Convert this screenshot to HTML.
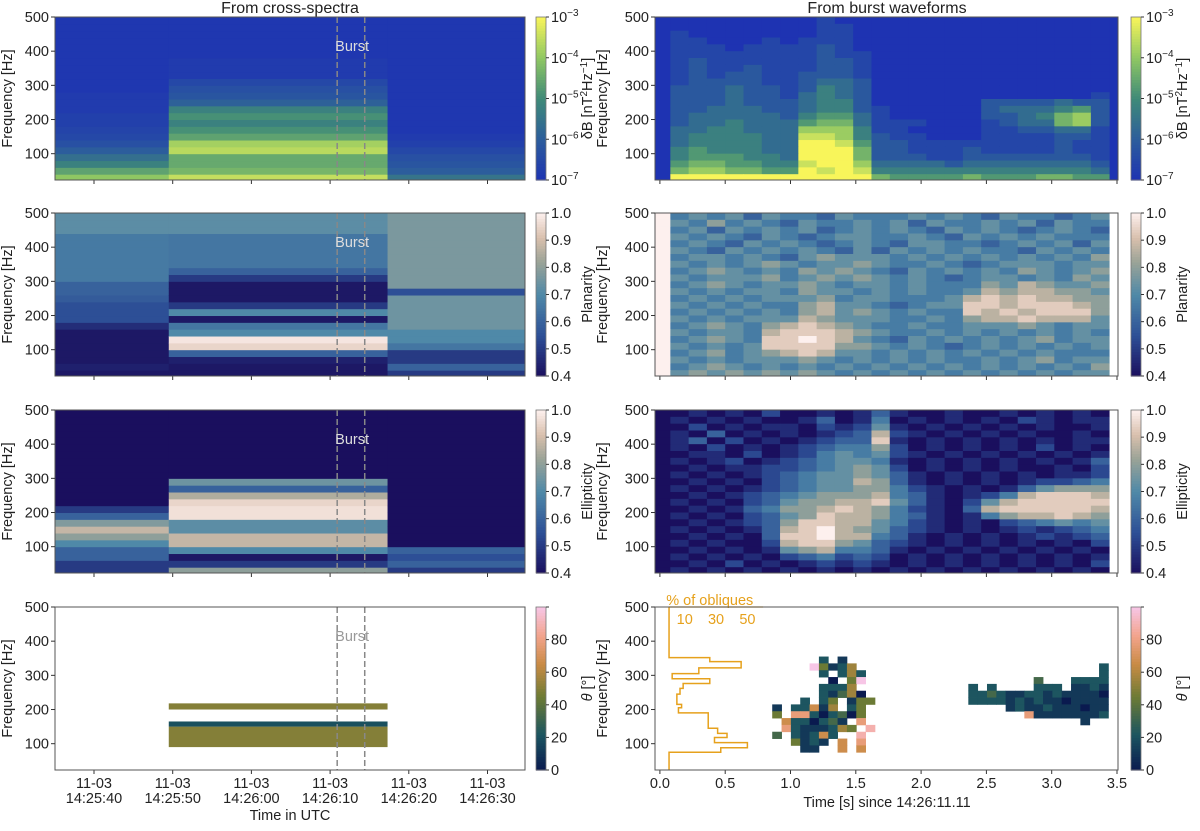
<!DOCTYPE html>
<html><head><meta charset="utf-8">
<style>
body{margin:0;background:#fff;}
svg text{font-family:"Liberation Sans",sans-serif;fill:#222;}
</style></head>
<body>
<svg id="fig" width="1200" height="826" viewBox="0 0 1200 826" xmlns="http://www.w3.org/2000/svg"></svg>
<script>
// ---------- DATA ----------
const freqEdges = [20,40,60,80,100,120,140,160,180,200,220,240,260,280,300,320,340,360,380,400,420,440,460,480,500];
const segStart = [-5.5, 9.5, 37.3];
const segEnd = [9.5, 37.3, 55];
const powSeg1 = [-4.0,-4.6,-5.2,-5.6,-6.0,-6.3,-6.5,-6.6,-6.7,-6.7,-6.8,-6.8,-6.8,-6.9,-6.9,-6.9,-6.9,-6.9,-6.9,-6.9,-6.9,-6.9,-6.9,-6.9];
const powSeg2 = [-3.5,-4.3,-4.5,-4.5,-3.6,-3.8,-4.6,-4.9,-5.2,-4.9,-5.2,-5.9,-6.2,-6.3,-6.5,-6.8,-6.8,-6.8,-6.9,-6.9,-6.9,-6.9,-6.9,-6.9];
const powSeg3 = [-5.5,-6.0,-6.2,-6.3,-6.5,-6.7,-6.8,-6.9,-6.9,-6.9,-6.9,-6.9,-6.9,-6.9,-6.9,-6.9,-6.9,-6.9,-6.9,-6.9,-6.9,-6.9,-6.9,-6.9];
const planSeg1 = [0.42,0.44,0.42,0.42,0.42,0.42,0.42,0.47,0.55,0.55,0.55,0.58,0.6,0.6,0.66,0.66,0.66,0.66,0.66,0.66,0.66,0.72,0.72,0.72];
const planSeg2 = [0.42,0.42,0.44,0.6,0.95,0.98,0.7,0.65,0.42,0.7,0.5,0.42,0.42,0.42,0.5,0.6,0.65,0.65,0.65,0.65,0.65,0.72,0.72,0.72];
const planSeg3 = [0.5,0.6,0.5,0.5,0.65,0.7,0.7,0.75,0.75,0.75,0.75,0.75,0.55,0.77,0.77,0.77,0.77,0.77,0.77,0.77,0.77,0.77,0.77,0.77];
const ellSeg1 = [0.5,0.5,0.6,0.6,0.7,0.8,0.88,0.78,0.6,0.5,0.4,0.4,0.4,0.4,0.4,0.4,0.4,0.4,0.4,0.4,0.4,0.4,0.4,0.4];
const ellSeg2 = [0.8,0.5,0.42,0.7,0.88,0.88,0.72,0.72,0.97,0.97,0.95,0.85,0.6,0.75,0.4,0.4,0.4,0.4,0.4,0.4,0.4,0.4,0.4,0.4];
const ellSeg3 = [0.5,0.6,0.55,0.6,0.4,0.4,0.4,0.4,0.4,0.4,0.4,0.4,0.4,0.4,0.4,0.4,0.4,0.4,0.4,0.4,0.4,0.4,0.4,0.4];
const thetaBandLo = [90,150,200];
const thetaBandHi = [150,165,218];
const thetaBandVal = [45,18,45];
const burstTimes = [30.9, 34.4];

// right column grids: rows top-first, 20 Hz each from 500 down to 20
const powT0 = 0.08, powDt = 0.14;
const powRows = [
"000000001000000000000000","000000001100000000000000","100000001100000000000000","110001011100000000000000",
"111011112100000000000000","111111112110000000000000","121111112210000000000000","121121112210000000000000",
"121221122210000000000000","122221123320000000000000","222322124320000000000000","222322134320000000000001",
"222322234420000002222322","223332234421000002333452","233333245531000002234672","233433356631110001233672",
"334433377741100001122331","344443388742110001111221","344443399852211111111211","454443399962211121111211",
"455544399962221122222221","566554489973333233333332","677665598984444444444443","999999999996555565556655"];
const polT0 = -0.06, polDt = 0.14;
const planRows = [
"9454535443544454543544345","9546454354454535445453544","9453545453454543545434543","9545435434554454354545444",
"9454354543454355443454535","9543545454353545454435454","9455454356555454545454546","9545456545565445434555455",
"9456545465654354545465456","9545556456565454345545465","9456545565455454446576556","9545455465545454457677665",
"9454545556455444578787766","9545454467554345588788876","9454545467565454487878886","9545455576555445467787775",
"9456546787654454455565455","9545547888765445454545454","9456548898754354545456455","9545458888665454345454545",
"9456456787554545454545444","9545455565454545445456455","9456545454545454545454546","9565656565454545454545455"];
const ellRows = [
"0010102001013100100101010","0101010013014010101021011","0020101102125101010101001","0103010101237210101010010",
"0130201012338101010101011","0102010123446201010102010","0011020124545210101010101","0101201234554101010101013",
"0010112234565201010100102","0101012345565310101010112","0010102345576310101012234","0101012345566421010135666",
"0010123456667431012478887","0101023566778531025788888","0010134667876421037888887","0101023568776431014677876",
"0010123688775421010234545","0101013789765321010121234","0010103889774310101012123","0101002788653210101010102",
"0010101567443101010101010","0101010234232010101010101","0010201012121010101010102","0101010101010101010101010"];
// theta grid: rows top-first from 355 Hz down, 20 Hz each; '.' = no data; digit*10 = degrees
const thT0 = 0.86, thDt = 0.0715, thF0 = 355;
const thetaRows = [
".....2.1..."+".........."+"...............",
"....94125.."+".........."+"..............2",
".....2.252."+".........."+"..............2",
"......0.49."+".........."+".......3...2222",
".....2225.."+".........."+"2.2....222.1121",
".....21350."+".........."+"223211221211110",
"...2.24.144"+".........."+"222212121101111",
"1.22615.24."+".........."+"....12112111011",
"4.77202304."+".........."+"......711111112",
".6220231.7."+".........."+"............1..",
".72111254.8"+".........."+"...............",
"3.21262..8."+".........."+"...............",
"..4121.6.7."+".........."+"...............",
"...11..6.6."+".........."+"..............."];
const histEdges = [23,75,88,103,118,130,145,190,205,215,245,262,276,290,305,322,340,352,500];
const histPct = [0,33,50,29,37,31,25,6,8,5,7,9,26,2,19,46,26,0];
const histTicks = [10,30,50];
const leftTickSec = [0,10,20,30,40,50];
const leftTickLabels = ["14:25:40","14:25:50","14:26:00","14:26:10","14:26:20","14:26:30"];
const rightTicks = [0,0.5,1.0,1.5,2.0,2.5,3.0,3.5];
const freqTicks = [100,200,300,400,500];

// ---------- helpers ----------
const svg = document.getElementById('fig');
const NS = 'http://www.w3.org/2000/svg';
const FS = 14.5;
function el(tag, attrs, parent){ const e=document.createElementNS(NS,tag); for(const k in attrs) e.setAttribute(k,attrs[k]); (parent||svg).appendChild(e); return e; }
function hex(c){return [parseInt(c.slice(1,3),16),parseInt(c.slice(3,5),16),parseInt(c.slice(5,7),16)];}
function cmap(stops, v){ v=Math.max(0,Math.min(1,v)); for(let i=1;i<stops.length;i++){ if(v<=stops[i][0]){ const a=stops[i-1],b=stops[i]; const t=(v-a[0])/(b[0]-a[0]); const A=hex(a[1]),B=hex(b[1]); return 'rgb('+A.map((x,j)=>Math.round(x+(B[j]-x)*t)).join(',')+')'; } } return stops[stops.length-1][1]; }
const powStops=[[0,'#1e33b2'],[0.25,'#2c5d9c'],[0.5,'#3f8a78'],[0.75,'#8fc763'],[1,'#f8f55a']];
const polStops=[[0,'#1a0f5e'],[0.25,'#2d4f96'],[0.5,'#4f89a8'],[0.7,'#9aa397'],[0.85,'#d9c0ad'],[1,'#fdf0ee']];
const thStops=[[0,'#0a1a4f'],[0.22,'#1c5560'],[0.45,'#6d7b34'],[0.65,'#c98b45'],[0.82,'#f2a38a'],[1,'#f7c6e6']];
const powC=v=>cmap(powStops,(v+7)/4), polC=v=>cmap(polStops,(v-0.4)/0.6), thC=v=>cmap(thStops,v/90);

const rowTop=[17,213,410,607], PH=163, FMIN=23, FMAX=500;
const LX0=55, LX1=525, RX0=655, RX1=1118;
const lx = s => 94 + s*7.87;
const rx = t => 659.9 + t*130.6;
function fy(r,f){ f=Math.max(FMIN,Math.min(FMAX,f)); return rowTop[r] + (FMAX-f)/(FMAX-FMIN)*PH; }

function axesFrame(r, x0, x1, name, bg){
  const g=el('g',{});
  
  
  el('rect',{x:x0,y:rowTop[r],width:x1-x0,height:PH,fill:bg||'#fff'},g);
  const clip=el('clipPath',{id:'c'+name},g);
  el('rect',{x:x0,y:rowTop[r],width:x1-x0,height:PH},clip);
  const inner=el('g',{'clip-path':'url(#c'+name+')'},g);
  return {g,inner,x0,x1,r};
}
function finishFrame(ax, ylabelX){
  const {g,x0,x1,r}=ax;
  el('rect',{x:x0,y:rowTop[r],width:x1-x0,height:PH,fill:'none',stroke:'#555','stroke-width':1},g);
  freqTicks.forEach(f=>{ const y=fy(r,f);
    el('line',{x1:x0-4,x2:x0,y1:y,y2:y,stroke:'#333'},g);
    const t=el('text',{x:x0-6,y:y+5,'text-anchor':'end','font-size':FS},g); t.textContent=f;
    
     });
  const yl=el('text',{x:ylabelX,y:rowTop[r]+PH/2,'text-anchor':'middle','font-size':FS,transform:'rotate(-90 '+ylabelX+' '+(rowTop[r]+PH/2)+')'},g);
  yl.textContent='Frequency [Hz]';
  
  
}
function colorbar(r, x, stops, ticks, label, name){
  const g=el('g',{});
  
  
  const n=60;
  for(let i=0;i<n;i++){ el('rect',{x:x,y:rowTop[r]+PH-(i+1)*PH/n,width:10,height:PH/n+0.6,fill:cmap(stops,(i+0.5)/n)},g); }
  el('rect',{x:x,y:rowTop[r],width:10,height:PH,fill:'none',stroke:'#777','stroke-width':0.8},g);
  ticks.forEach((tk,i)=>{ const y=rowTop[r]+PH-i*PH/(ticks.length-1);
    el('line',{x1:x+10,x2:x+13,y1:y,y2:y,stroke:'#333'},g);
    const t=el('text',{x:x+15,y:y+5,'font-size':FS},g);
    if(Array.isArray(tk)){ t.textContent=tk[0]; const s=el('tspan',{dy:-6,'font-size':10},t); s.textContent=tk[1]; }
    else t.textContent=tk;
    
     });
  const lxp=x+56, ly=rowTop[r]+PH/2;
  const t=el('text',{x:lxp,y:ly,'text-anchor':'middle','font-size':FS,transform:'rotate(-90 '+lxp+' '+ly+')'},g);
  t.innerHTML=label;
  
  
}
function burst(ax, col){
  burstTimes.forEach(s=>{ const l=el('line',{x1:lx(s),x2:lx(s),y1:rowTop[ax.r],y2:rowTop[ax.r]+PH,stroke:'#888','stroke-width':1.5,'stroke-dasharray':'6,3'},ax.g);
    
     });
  const t=el('text',{x:lx(burstTimes[0])-2,y:rowTop[ax.r]+34,'font-size':FS},ax.g);
  t.style.fill=col; t.textContent='Burst';
  
  
}
function leftXTicks(ax, labels){
  leftTickSec.forEach((s,i)=>{ const x=lx(s); el('line',{x1:x,x2:x,y1:rowTop[ax.r]+PH,y2:rowTop[ax.r]+PH+4,stroke:'#333'},ax.g);
    if(labels){ const t=el('text',{x:x,y:rowTop[ax.r]+PH+18,'text-anchor':'middle','font-size':FS},ax.g); t.textContent='11-03';
      
      
      const t2=el('text',{x:x,y:rowTop[ax.r]+PH+33,'text-anchor':'middle','font-size':FS},ax.g); t2.textContent=leftTickLabels[i];
      
       } });
}
function rightXTicks(ax, labels){
  rightTicks.forEach(v=>{ const x=rx(v); el('line',{x1:x,x2:x,y1:rowTop[ax.r]+PH,y2:rowTop[ax.r]+PH+4,stroke:'#333'},ax.g);
    if(labels){ const t=el('text',{x:x,y:rowTop[ax.r]+PH+18,'text-anchor':'middle','font-size':FS},ax.g); t.textContent=v.toFixed(1);
      
       } });
}
function leftBands(ax, segs, cf){
  segs.forEach((vals,si)=>{ vals.forEach((v,bi)=>{ const y0=fy(ax.r,freqEdges[bi+1]), y1=fy(ax.r,freqEdges[bi]);
    const rc=el('rect',{x:lx(segStart[si]),y:y0,width:lx(segEnd[si])-lx(segStart[si])+0.5,height:y1-y0+0.5,fill:cf(v)},ax.inner);
    
     }); });
}
function rightGrid(ax, rows, t0, dt, cf, f0, df){
  rows.forEach((row,ri)=>{ for(let ci=0;ci<row.length;ci++){ const ch=row[ci]; if(ch==='.'||ch===' ') continue;
    const d=+ch; const fTop=f0-ri*df, fBot=fTop-df; const y0=fy(ax.r,fTop), y1=fy(ax.r,fBot);
    const rc=el('rect',{x:rx(t0+ci*dt),y:y0,width:rx(t0+(ci+1)*dt)-rx(t0+ci*dt)+0.4,height:y1-y0+0.4,fill:cf(d)},ax.inner);
    
     } });
}

// ---------- titles ----------
let tt=el('text',{x:290,y:13,'text-anchor':'middle','font-size':16}); tt.textContent='From cross-spectra';


tt=el('text',{x:887,y:13,'text-anchor':'middle','font-size':16}); tt.textContent='From burst waveforms';



// ---------- left column ----------
let a=axesFrame(0,LX0,LX1,'left-power-panel'); leftBands(a,[powSeg1,powSeg2,powSeg3],powC); burst(a,'#dddddd'); leftXTicks(a,false); finishFrame(a,12);
a=axesFrame(1,LX0,LX1,'left-planarity-panel'); leftBands(a,[planSeg1,planSeg2,planSeg3],polC); burst(a,'#dddddd'); leftXTicks(a,false); finishFrame(a,12);
a=axesFrame(2,LX0,LX1,'left-ellipticity-panel'); leftBands(a,[ellSeg1,ellSeg2,ellSeg3],polC); burst(a,'#dddddd'); leftXTicks(a,false); finishFrame(a,12);
a=axesFrame(3,LX0,LX1,'left-theta-panel');
thetaBandVal.forEach((v,i)=>{ const y0=fy(3,thetaBandHi[i]), y1=fy(3,thetaBandLo[i]);
  const rc=el('rect',{x:lx(segStart[1]),y:y0,width:lx(segEnd[1])-lx(segStart[1]),height:y1-y0,fill:thC(v)},a.inner);
  
   });
burst(a,'#999999'); leftXTicks(a,true); finishFrame(a,12);
tt=el('text',{x:290,y:820,'text-anchor':'middle','font-size':FS}); tt.textContent='Time in UTC';



const powTicks=[['10','−7'],['10','−6'],['10','−5'],['10','−4'],['10','−3']];
const polTicks=['0.4','0.5','0.6','0.7','0.8','0.9','1.0'];
const thTicks=['0','20','40','60','80'];
const powLabel='δB [nT<tspan dy="-5" font-size="10">2</tspan><tspan dy="5">Hz</tspan><tspan dy="-5" font-size="10">−1</tspan><tspan dy="5">]</tspan>';
colorbar(0,536,powStops,powTicks,powLabel,'left-power-colorbar');
colorbar(1,536,polStops,polTicks,'Planarity','left-planarity-colorbar');
colorbar(2,536,polStops,polTicks,'Ellipticity','left-ellipticity-colorbar');
colorbar(3,536,thStops,thTicks.concat(['']),'<tspan font-style="italic">θ</tspan> [°]','left-theta-colorbar');

// ---------- right column ----------
a=axesFrame(0,RX0,RX1,'right-power-panel',powC(-7)); rightGrid(a,powRows,powT0,powDt,d=>powC(-7+d*4/9),500,20); rightXTicks(a,false); finishFrame(a,607);
a=axesFrame(1,RX0,RX1,'right-planarity-panel'); rightGrid(a,planRows,polT0,polDt,d=>polC(0.4+d*0.6/9),500,20); rightXTicks(a,false); finishFrame(a,607);
a=axesFrame(2,RX0,RX1,'right-ellipticity-panel'); rightGrid(a,ellRows,polT0,polDt,d=>polC(0.4+d*0.6/9),500,20); rightXTicks(a,false); finishFrame(a,607);
a=axesFrame(3,RX0,RX1,'right-theta-panel'); rightGrid(a,thetaRows,thT0,thDt,d=>thC(d*10),thF0,20);
// histogram of obliques
const pctX = p => rx(0.07 + p*0.012);
let dpath='M'+pctX(0)+','+fy(3,histEdges[0]);
histPct.forEach((p,i)=>{ dpath+=' L'+pctX(p)+','+fy(3,histEdges[i])+' L'+pctX(p)+','+fy(3,histEdges[i+1]); });
const hp=el('path',{d:dpath,fill:'none',stroke:'#e6a11c','stroke-width':1.5},a.g);


const hx=el('line',{x1:pctX(0),x2:pctX(60),y1:rowTop[3],y2:rowTop[3],stroke:'#e6a11c','stroke-width':1.2},a.g);


histTicks.forEach(p=>{ const t=el('text',{x:pctX(p),y:rowTop[3]+17,'text-anchor':'middle','font-size':FS},a.g); t.style.fill='#e6a11c'; t.textContent=p;
  
   });
tt=el('text',{x:pctX(26),y:rowTop[3]-2,'text-anchor':'middle','font-size':FS},a.g); tt.style.fill='#e6a11c'; tt.textContent='% of obliques';


rightXTicks(a,true); finishFrame(a,607);
tt=el('text',{x:887,y:807,'text-anchor':'middle','font-size':FS}); tt.textContent='Time [s] since 14:26:11.11';



colorbar(0,1131,powStops,powTicks,powLabel,'right-power-colorbar');
colorbar(1,1131,polStops,polTicks,'Planarity','right-planarity-colorbar');
colorbar(2,1131,polStops,polTicks,'Ellipticity','right-ellipticity-colorbar');
colorbar(3,1131,thStops,thTicks.concat(['']),'<tspan font-style="italic">θ</tspan> [°]','right-theta-colorbar');
</script>
</body></html>
